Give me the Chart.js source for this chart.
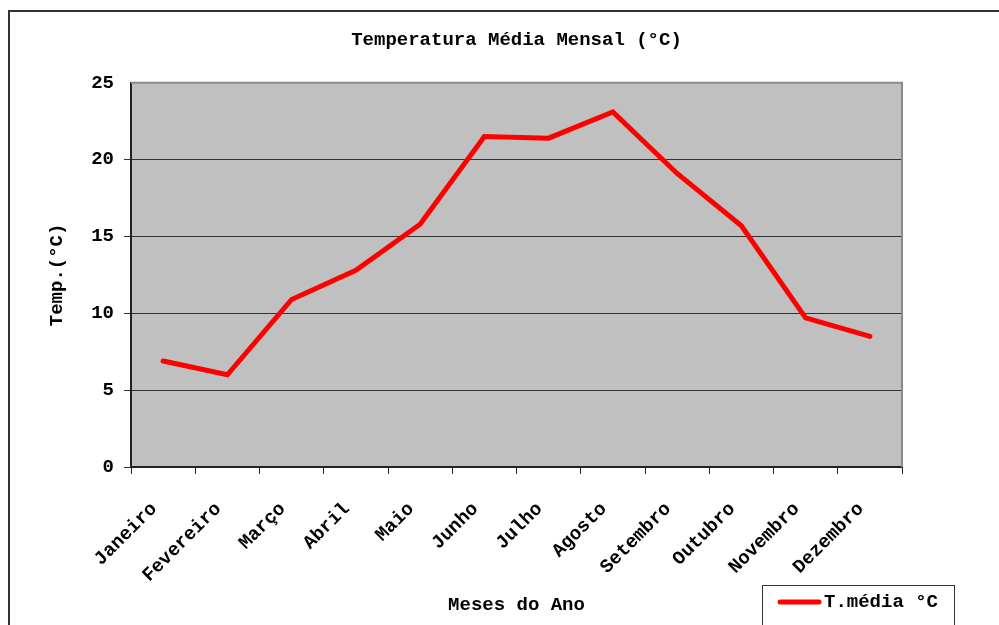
<!DOCTYPE html>
<html>
<head>
<meta charset="utf-8">
<script src="https://cdn.jsdelivr.net/npm/chart.js@4/dist/chart.umd.min.js"></script>
<style>
  html, body { margin: 0; padding: 0; background: #fff; }
  #wrap { width: 999px; height: 625px; position: relative; }
</style>
</head>
<body>
<div id="wrap"><canvas id="tempChart"></canvas></div>
<script>
/* --------------------------------------------
   Data
-------------------------------------------- */
const months = [
  "Janeiro", "Fevereiro", "Março", "Abril", "Maio", "Junho",
  "Julho", "Agosto", "Setembro", "Outubro", "Novembro", "Dezembro",
];
const tempMedia = [6.9, 6.0, 10.9, 12.8, 15.8, 21.5, 21.4, 23.1, 19.1, 15.7, 9.7, 8.5];
const seriesLabel = "T.média °C";
const chartTitle = "Temperatura Média Mensal (°C)";
const xTitle = "Meses do Ano";
const yTitle = "Temp.(°C)";

const FONT = "'Liberation Mono', 'Courier New', monospace";

/* --------------------------------------------
   Frame, plot background and legend box
-------------------------------------------- */
const excelLook = {
  id: "excelLook",
  beforeDraw(chart) {
    const { ctx, chartArea: a } = chart;
    ctx.save();
    ctx.fillStyle = "#ffffff";
    ctx.fillRect(0, 0, chart.width, chart.height);
    ctx.strokeStyle = "#333333";
    ctx.lineWidth = 2;
    ctx.strokeRect(9, 11, chart.width + 20, chart.height + 20);
    ctx.fillStyle = "#c0c0c0";
    ctx.fillRect(a.left, a.top, a.right - a.left, a.bottom - a.top);
    ctx.restore();
  },
  beforeDatasetsDraw(chart) {
    const { ctx, chartArea: a } = chart;
    ctx.save();
    ctx.strokeStyle = "#8a8a8a";
    ctx.lineWidth = 2;
    ctx.beginPath();
    ctx.moveTo(a.left, a.top);
    ctx.lineTo(a.right, a.top);
    ctx.lineTo(a.right, a.bottom);
    ctx.stroke();
    ctx.restore();
  },
  afterDraw(chart) {
    const { ctx } = chart;
    const ds = chart.data.datasets[0];
    ctx.save();
    ctx.strokeStyle = "#333333";
    ctx.lineWidth = 1;
    ctx.strokeRect(762.5, 585.5, 192, 45);
    ctx.strokeStyle = ds.borderColor;
    ctx.lineWidth = 5;
    ctx.lineCap = "round";
    ctx.beginPath();
    ctx.moveTo(780, 602);
    ctx.lineTo(819, 602);
    ctx.stroke();
    ctx.fillStyle = "#000";
    ctx.font = `bold 19px ${FONT}`;
    ctx.textBaseline = "middle";
    ctx.fillText(ds.label, 824, 602);
    ctx.restore();
  },
};

/* --------------------------------------------
   Chart
-------------------------------------------- */
new Chart(document.getElementById("tempChart"), {
  type: "line",
  data: {
    labels: months,
    datasets: [
      {
        label: seriesLabel,
        data: tempMedia,
        borderColor: "#ff0000",
        borderWidth: 5,
        borderCapStyle: "round",
        pointRadius: 0,
        tension: 0,
        fill: false,
      },
    ],
  },
  options: {
    responsive: true,
    maintainAspectRatio: false,
    animation: false,
    layout: { padding: { left: 10, right: 97, top: 0, bottom: 0 } },
    plugins: {
      legend: { display: false },
      tooltip: { enabled: false },
      title: {
        display: true,
        text: chartTitle,
        fullSize: false,
        color: "#000",
        font: { family: FONT, size: 19, weight: "bold", lineHeight: 1.2 },
        padding: { top: 29, bottom: 31 },
      },
    },
    scales: {
      x: {
        offset: true,
        afterFit: (scale) => { scale.height = 158; },
        grid: {
          offset: true,
          drawOnChartArea: false,
          drawTicks: true,
          tickLength: 7,
          color: "#222",
        },
        border: { color: "#222", width: 2 },
        ticks: {
          color: "#000",
          autoSkip: false,
          maxRotation: 45,
          minRotation: 45,
          padding: 24,
          labelOffset: -9,
          font: { family: FONT, size: 19, weight: "bold" },
        },
        title: {
          display: true,
          text: xTitle,
          color: "#000",
          font: { family: FONT, size: 19, weight: "bold", lineHeight: 1.2 },
          padding: { top: 0, bottom: 8 },
        },
      },
      y: {
        min: 0,
        max: 25,
        afterFit: (scale) => { scale.width = 121; },
        grid: {
          color: (c) => (c.tick && c.tick.value === 25 ? "rgba(0,0,0,0)" : "#333"),
          lineWidth: 1,
          tickLength: 7,
          drawTicks: true,
        },
        border: { color: "#222", width: 2 },
        ticks: {
          stepSize: 5,
          color: "#000",
          padding: 10,
          font: { family: FONT, size: 19, weight: "bold" },
        },
        title: {
          display: true,
          text: yTitle,
          color: "#000",
          font: { family: FONT, size: 19, weight: "bold", lineHeight: 1.2 },
          padding: { top: 36, bottom: 0 },
        },
      },
    },
  },
  plugins: [excelLook],
});
</script>
</body>
</html>
